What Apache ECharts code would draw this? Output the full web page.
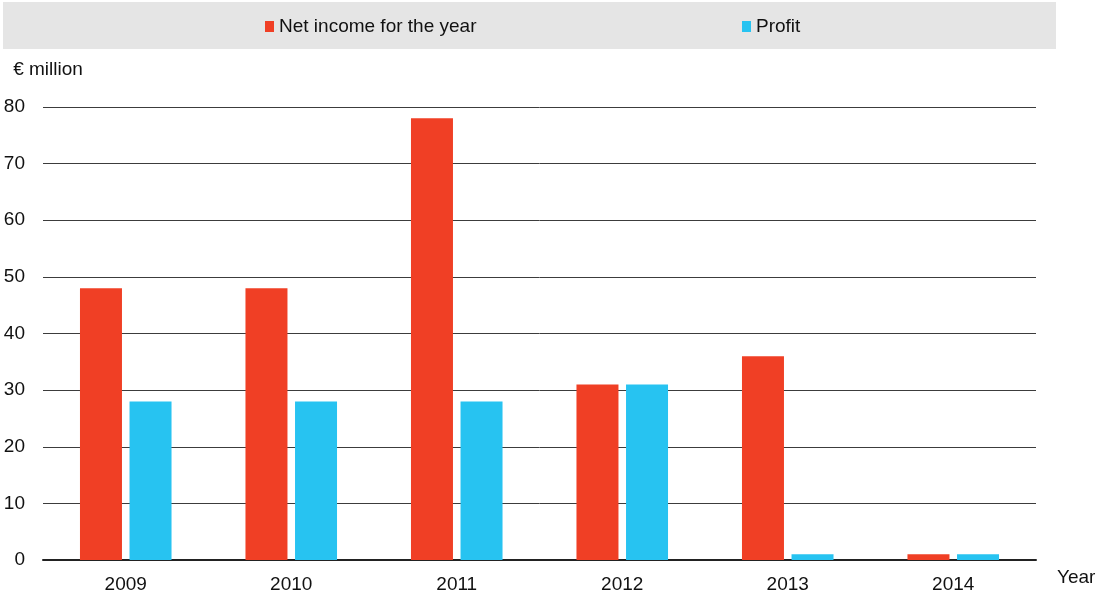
<!DOCTYPE html>
<html>
<head>
<meta charset="utf-8">
<script src="https://cdn.jsdelivr.net/npm/echarts@6/dist/echarts.min.js"></script>
<style>html,body{margin:0;padding:0;background:#fff}#c{width:1101px;height:597px}</style>
</head>
<body>
<div id="c"></div>
<script>
var categories = ['2009', '2010', '2011', '2012', '2013', '2014'];
var netIncome = [48, 48, 78, 31, 36, 1];
var profit = [28, 28, 28, 31, 1, 1];
var seriesNames = ['Net income for the year', 'Profit'];
var yTicks = [0, 10, 20, 30, 40, 50, 60, 70, 80];

var FONT = '"Liberation Sans", Arial, sans-serif';
var FS = 19;
var chart = echarts.init(document.getElementById('c'), null, {renderer: 'canvas'});
chart.setOption({
  animation: false,
  textStyle: {fontFamily: FONT},
  graphic: [{
    type: 'rect', left: 3, top: 2, z: -10,
    shape: {width: 1053, height: 47},
    style: {fill: '#e5e5e5'}
  }],
  legend: [{
    data: [seriesNames[0]], left: 260, top: 12,
    icon: 'rect', itemWidth: 9, itemHeight: 11, itemGap: 5,
    textStyle: {fontFamily: FONT, fontSize: FS, color: '#111'}
  }, {
    data: [seriesNames[1]], left: 737, top: 12,
    icon: 'rect', itemWidth: 9, itemHeight: 11, itemGap: 5,
    textStyle: {fontFamily: FONT, fontSize: FS, color: '#111'}
  }],
  grid: {left: 43, right: 65, top: 107, bottom: 37, containLabel: false},
  xAxis: {
    type: 'category', data: categories,
    name: 'Year', nameLocation: 'end', nameGap: 21,
    nameTextStyle: {fontFamily: FONT, fontSize: FS, color: '#111', align: 'left', verticalAlign: 'top', lineHeight: 36},
    axisLine: {lineStyle: {color: '#222', width: 2}},
    axisTick: {show: false},
    axisLabel: {fontFamily: FONT, fontSize: FS, color: '#111', margin: 15}
  },
  yAxis: {
    type: 'value', min: yTicks[0], max: yTicks[yTicks.length - 1], interval: 10,
    name: '€ million', nameLocation: 'end', nameGap: 37,
    nameTextStyle: {fontFamily: FONT, fontSize: FS, color: '#111', align: 'center', verticalAlign: 'middle', padding: [0, 0, 0, 10]},
    axisLine: {show: false},
    axisTick: {show: false},
    axisLabel: {fontFamily: FONT, fontSize: FS, color: '#111', margin: 18, align: 'right'},
    splitLine: {lineStyle: {color: '#3c3c3c', width: 1}}
  },
  series: [{
    name: seriesNames[0], type: 'bar', data: netIncome,
    barWidth: 42, barGap: '18%',
    itemStyle: {color: '#f03f25'}
  }, {
    name: seriesNames[1], type: 'bar', data: profit,
    barWidth: 42, barGap: '18%',
    itemStyle: {color: '#27c3f1'}
  }]
});
</script>
</body>
</html>
